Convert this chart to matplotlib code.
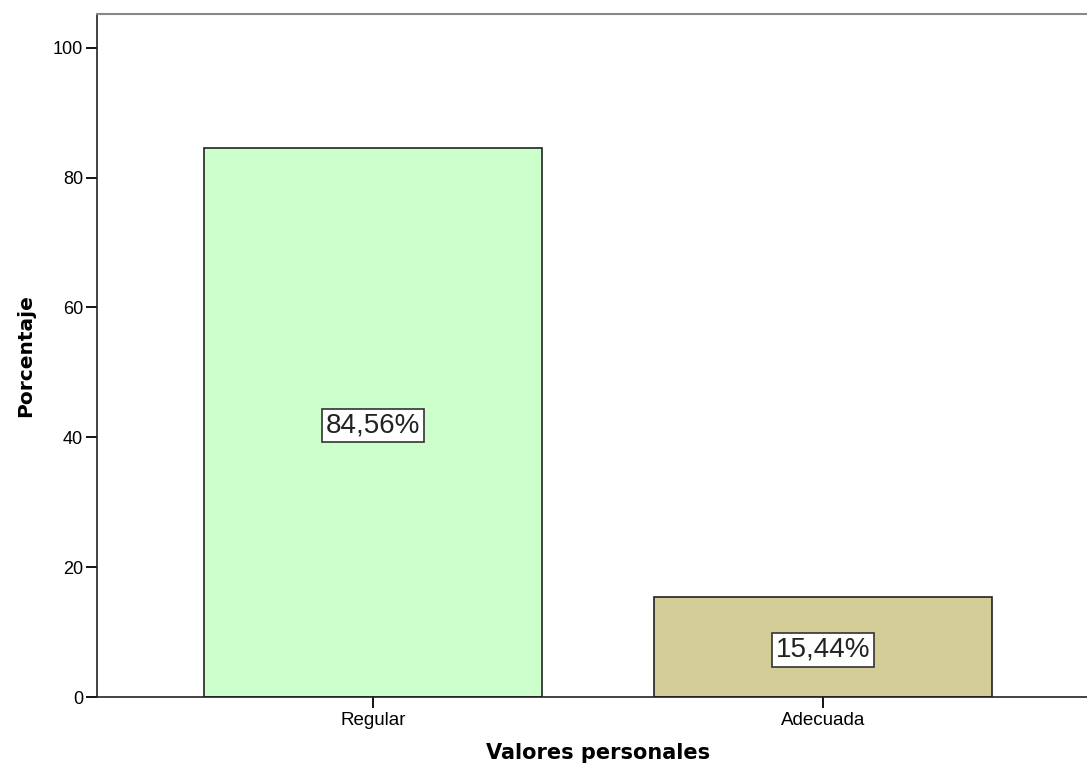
import matplotlib
matplotlib.use("Agg")
import matplotlib.pyplot as plt

categories = ["Regular", "Adecuada"]
percentages = [84.56, 15.44]
value_labels = ["84,56%", "15,44%"]
bar_colors = ["#CCFFCC", "#D3CE97"]

plt.rcParams['font.family'] = ['Liberation Sans', 'DejaVu Sans']

fig = plt.figure(figsize=(10.87, 7.69), dpi=100)
ax = fig.add_axes([97/1087, 72/769, 1002/1087, 683/769])

x = range(len(categories))
ax.bar(x, percentages, width=0.75, color=bar_colors, edgecolor="#222222", linewidth=1.2)

# value labels sit in white boxes in the middle of each bar
for xi, val, lab in zip(x, percentages, value_labels):
    ax.text(xi, val / 2, lab, ha="center", va="center_baseline", fontsize=20, color="#222222",
            bbox=dict(boxstyle="square,pad=0.14", facecolor="white", edgecolor="#333333", linewidth=1.2))

ax.set_xlim(-0.613, 1.613)
ax.set_ylim(0, 105.2)
ax.set_xticks(list(x))
ax.set_xticklabels(categories, fontsize=13.5)
ax.set_yticks([0, 20, 40, 60, 80, 100])
ax.tick_params(axis="y", labelsize=13, length=8, width=1.3, direction="out", pad=2)
ax.tick_params(axis="x", length=8, width=1.3, direction="out", pad=3)

ax.spines["right"].set_visible(False)
ax.spines["top"].set_color("#888888")
ax.spines["top"].set_linewidth(1.5)
ax.spines["left"].set_color("#222222")
ax.spines["bottom"].set_color("#222222")
ax.spines["left"].set_linewidth(1.2)
ax.spines["bottom"].set_linewidth(1.2)

ax.set_xlabel("Valores personales", fontsize=15, fontweight="bold", family="DejaVu Sans", labelpad=10)
ax.set_ylabel("Porcentaje", fontsize=14.5, fontweight="bold", family="DejaVu Sans", labelpad=13)

fig.savefig("out.png", dpi=100)
